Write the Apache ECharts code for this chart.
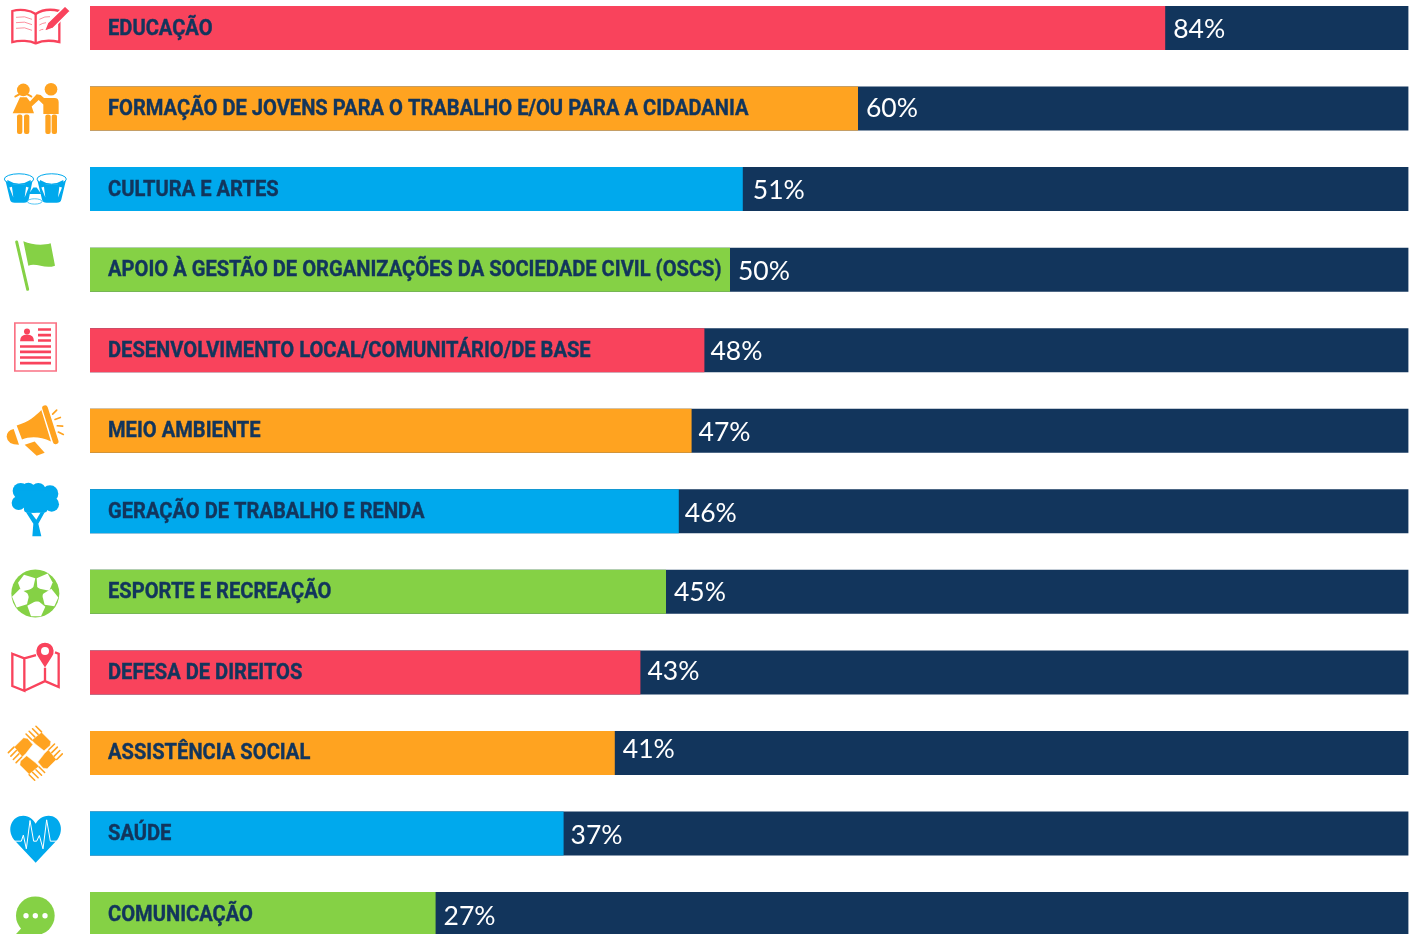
<!DOCTYPE html>
<html>
<head>
<meta charset="utf-8">
<style>
  html, body { margin: 0; padding: 0; background: #fff; overflow: hidden; }
  #chart { width: 1418px; height: 934px; }
</style>
<script src="https://cdn.jsdelivr.net/npm/echarts@6/dist/echarts.min.js"></script>
</head>
<body>
<div id="chart"></div>
<script>
var categories = [
  'EDUCAÇÃO',
  'FORMAÇÃO DE JOVENS PARA O TRABALHO E/OU PARA A CIDADANIA',
  'CULTURA E ARTES',
  'APOIO À GESTÃO DE ORGANIZAÇÕES DA SOCIEDADE CIVIL (OSCS)',
  'DESENVOLVIMENTO LOCAL/COMUNITÁRIO/DE BASE',
  'MEIO AMBIENTE',
  'GERAÇÃO DE TRABALHO E RENDA',
  'ESPORTE E RECREAÇÃO',
  'DEFESA DE DIREITOS',
  'ASSISTÊNCIA SOCIAL',
  'SAÚDE',
  'COMUNICAÇÃO'
]
var values = [84, 60, 51, 50, 48, 47, 46, 45, 43, 41, 37, 27]

var RED = '#f9435c'
var ORANGE = '#ffa320'
var BLUE = '#00a9ed'
var GREEN = '#85d145'
var NAVY = '#12355c'
var barColors = [RED, ORANGE, BLUE, GREEN, RED, ORANGE, BLUE, GREEN, RED, ORANGE, BLUE, GREEN]

// small nudges of the percent labels, the source is not quite regular
var pctNudge = [[0, 1], [0, 0], [2, 1], [0, 2], [-2, 1], [-1, 2], [-2, 2], [0, 1], [-1, -1], [0, -4], [-1, 2], [0, 2]]

// one hand of the "assistencia" icon, rotated four times
var hand = '<path d="M-12-42L20-68L50-38L48-25L28-8L0-30Z"/>' +
  '<path d="M-30-62L-12-44M-20-71L-2-53M-9-79L9-61M2-87L20-69" stroke="' + ORANGE + '" stroke-width="5" stroke-linecap="round"/>'

// icons, drawn in 3x pixels; the number is the y of the row centre
var icons = [
  [84, '<g fill="none" stroke="' + RED + '" stroke-width="7"><path d="M37 33C60 26 90 30 107 42C125 30 150 26 178 33V126C150 120 125 122 107 130C90 122 60 120 37 126Z"/><path d="M107 42V130"/></g>' +
    '<g fill="none" stroke="' + RED + '" stroke-width="2.5" opacity=".7"><path d="M48 52Q75 46 96 58M48 68Q75 62 96 74M48 85Q75 79 96 91M118 58Q135 48 150 50M118 75Q128 69 138 68M118 92Q124 88 130 88"/></g>' +
    '<path d="M133 94L143 68L195 18L211 33L160 84Z" fill="' + RED + '" stroke="#fff" stroke-width="4"/>'],
  [324, '<g fill="' + ORANGE + '"><circle cx="70" cy="268" r="19"/><circle cx="153" cy="266" r="19"/>' +
    '<path d="M38 338L60 290H80L90 303L110 281L122 283L132 292H164Q176 292 176 305V340H130V312L116 298L95 318L102 338Z"/>' +
    '<rect x="51" y="342" width="16" height="58" rx="6"/><rect x="72" y="342" width="16" height="58" rx="6"/>' +
    '<rect x="136" y="342" width="16" height="58" rx="6"/><rect x="155" y="342" width="16" height="58" rx="6"/></g>' +
    '<path d="M46 288Q70 270 94 288" fill="none" stroke="' + ORANGE + '" stroke-width="6" stroke-linecap="round"/>'],
  [567, '<g fill="' + BLUE + '"><path d="M16 540L30 598Q32 608 44 608H72Q84 608 86 598L98 540Z"/><path d="M112 540L126 598Q128 608 140 608H170Q182 608 184 598L198 540Z"/><path d="M86 582L100 562H110L124 582Z"/></g>' +
    '<g fill="#fff" stroke="' + BLUE + '" stroke-width="3"><ellipse cx="57" cy="537" rx="44" ry="16"/><ellipse cx="155" cy="537" rx="44" ry="16"/></g>' +
    '<path d="M22 540Q57 562 92 540V552H22Z" fill="' + BLUE + '"/><path d="M120 540Q155 562 190 540V552H120Z" fill="' + BLUE + '"/>' +
    '<g fill="#fff"><path d="M28 562L36 560L40 592Z"/><path d="M86 562L78 560L74 592Z"/><path d="M124 562L132 560L136 592Z"/><path d="M186 562L178 560L174 592Z"/></g>' +
    '<ellipse cx="104" cy="604" rx="22" ry="8" fill="#fff" stroke="' + BLUE + '" stroke-width="2"/>'],
  [807, '<path d="M50 724L83 866" stroke="' + GREEN + '" stroke-width="9" stroke-linecap="round" fill="none"/>' +
    '<path d="M70 722C95 732 125 736 152 728L165 795C135 806 110 786 85 795Z" fill="' + GREEN + '"/>'],
  [120, '<rect x="44.5" y="38.5" width="124" height="144" fill="#fff" stroke="' + RED + '" stroke-width="5" opacity=".75"/>' +
    '<g fill="' + RED + '"><circle cx="81" cy="64" r="9"/><path d="M60 93Q60 73 81 73Q102 73 102 93Z"/>' +
    '<rect x="114" y="54" width="39" height="8"/><rect x="114" y="71" width="39" height="8"/><rect x="114" y="87" width="39" height="8"/>' +
    '<rect x="60" y="105" width="93" height="8"/><rect x="60" y="121" width="93" height="8"/><rect x="60" y="138" width="93" height="8"/><rect x="60" y="155" width="93" height="8"/></g>'],
  [360, '<g fill="' + ORANGE + '"><path d="M50 344C85 335 108 315 124 298L153 392C120 376 90 376 66 386Z"/>' +
    '<path d="M41 355Q20 360 20 378Q22 402 57 402Z"/><path d="M74 402L104 392L134 426L110 435Z"/></g>' +
    '<path d="M135 292L167 392" stroke="' + ORANGE + '" stroke-width="17" stroke-linecap="round"/>' +
    '<path d="M158 310L170 298M165 326L181 320M172 345L188 346M175 364L190 371" stroke="' + ORANGE + '" stroke-width="5" stroke-linecap="round"/>'],
  [603, '<g fill="' + BLUE + '"><circle cx="62" cy="542" r="24"/><circle cx="85" cy="538" r="21"/><circle cx="115" cy="540" r="22"/><circle cx="150" cy="550" r="25"/>' +
    '<circle cx="56" cy="578" r="21"/><circle cx="100" cy="575" r="32"/><circle cx="155" cy="582" r="22"/><rect x="50" y="540" width="110" height="50"/><rect x="72" y="585" width="70" height="22" rx="10"/></g>' +
    '<path d="M78 606L100 640L97 678H124L115 640L134 606H122L109 628L92 606Z" fill="' + BLUE + '"/>'],
  [843, '<circle cx="106" cy="848" r="72" fill="' + GREEN + '"/>' +
    '<g fill="#fff"><path d="M72 792L106 802L99 834L64 842L54 816Z"/><path d="M110 802L143 788L158 815L148 840L112 832Z"/>' +
    '<path d="M36 858L60 834L88 851L81 880L50 890Z"/><path d="M126 851L154 834L175 860L163 886L134 882Z"/><path d="M82 885L112 868L136 888L123 916H93Z"/></g>' +
    '<path d="M106 825L131 843L122 872L91 872L81 843Z" fill="' + GREEN + '"/>'],
  [126, '<path d="M37 70L73 84V181L37 167ZM73 84L108 74M73 181L135 152L176 170V70L165 66M135 112V152" fill="none" stroke="' + RED + '" stroke-width="7"/>' +
    '<path d="M135 111L114 78A26 26 0 1 1 156 78Z" fill="' + RED + '"/><circle cx="135" cy="62" r="12" fill="#fff"/>'],
  [369, '<g fill="' + ORANGE + '" stroke="#fff" stroke-width="1.5"><g transform="translate(106 370) scale(.93)">' + hand + '</g>' +
    '<g transform="translate(106 370) rotate(90) scale(.93)">' + hand + '</g><g transform="translate(106 370) rotate(180) scale(.93)">' + hand + '</g>' +
    '<g transform="translate(106 370) rotate(270) scale(.93)">' + hand + '</g></g>'],
  [609, '<path d="M107 697L42 628C18 595 36 556 70 556C88 556 100 568 107 580C114 568 126 556 146 556C178 556 196 595 172 628Z" fill="' + BLUE + '"/>' +
    '<path d="M44 632H64L70 614L79 655L90 570L101 632H110L118 615L129 655L140 568L151 632H172" fill="none" stroke="#fff" stroke-width="3"/>'],
  [852, '<circle cx="106" cy="857" r="58" fill="' + GREEN + '"/><path d="M68 890L48 912H100Z" fill="' + GREEN + '"/>' +
    '<g fill="#fff"><circle cx="78" cy="857" r="8"/><circle cx="106" cy="857" r="8"/><circle cx="135" cy="857" r="8"/></g>']
]

var iconRich = {}
icons.forEach(function (icon, i) {
  var svg = '<svg xmlns="http://www.w3.org/2000/svg" width="70" height="70" viewBox="0 ' + (icon[0] - 105) + ' 210 210">' + icon[1] + '</svg>'
  iconRich['i' + i] = {
    width: 70,
    height: 70,
    backgroundColor: { image: 'data:image/svg+xml;charset=utf-8,' + encodeURIComponent(svg) }
  }
})

var chart = echarts.init(document.getElementById('chart'))

chart.setOption({
  animation: false,
  backgroundColor: '#fff',
  grid: { left: 90, top: -12.27, width: 1318.4, height: 966.6, outerBoundsMode: 'none' },
  xAxis: { type: 'value', min: 0, max: 103, show: false },
  yAxis: {
    type: 'category',
    inverse: true,
    data: categories,
    axisLine: { show: false },
    axisTick: { show: false },
    axisLabel: {
      interval: 0,
      margin: 20,
      formatter: function (name, i) { return '{i' + i + '|}' },
      rich: iconRich
    }
  },
  series: [
    {
      name: 'area',
      type: 'bar',
      barWidth: 44,
      showBackground: true,
      backgroundStyle: { color: NAVY },
      data: values.map(function (v, i) {
        return {
          value: v,
          itemStyle: { color: barColors[i] },
          label: { offset: pctNudge[i] }
        }
      }),
      label: {
        show: true,
        position: 'right',
        distance: 8,
        color: '#fff',
        fontFamily: 'Lato, sans-serif',
        fontWeight: 400,
        fontSize: 26.5,
        formatter: '{c}%'
      }
    },
    {
      // bar names, squeezed because no condensed face is installed
      name: 'names',
      type: 'custom',
      z: 5,
      data: categories.map(function (c) { return [0, c] }),
      encode: { x: 0, y: 1 },
      renderItem: function (params, api) {
        var p = api.coord([api.value(0), api.value(1)])
        return {
          type: 'text',
          x: p[0] + 18,
          y: p[1] + 1,
          scaleX: 0.915,
          style: {
            text: categories[params.dataIndex],
            fill: NAVY,
            stroke: NAVY,
            lineWidth: 0.4,
            font: 'bold 22px Roboto, sans-serif',
            verticalAlign: 'middle'
          }
        }
      }
    }
  ]
})
</script>
</body>
</html>
